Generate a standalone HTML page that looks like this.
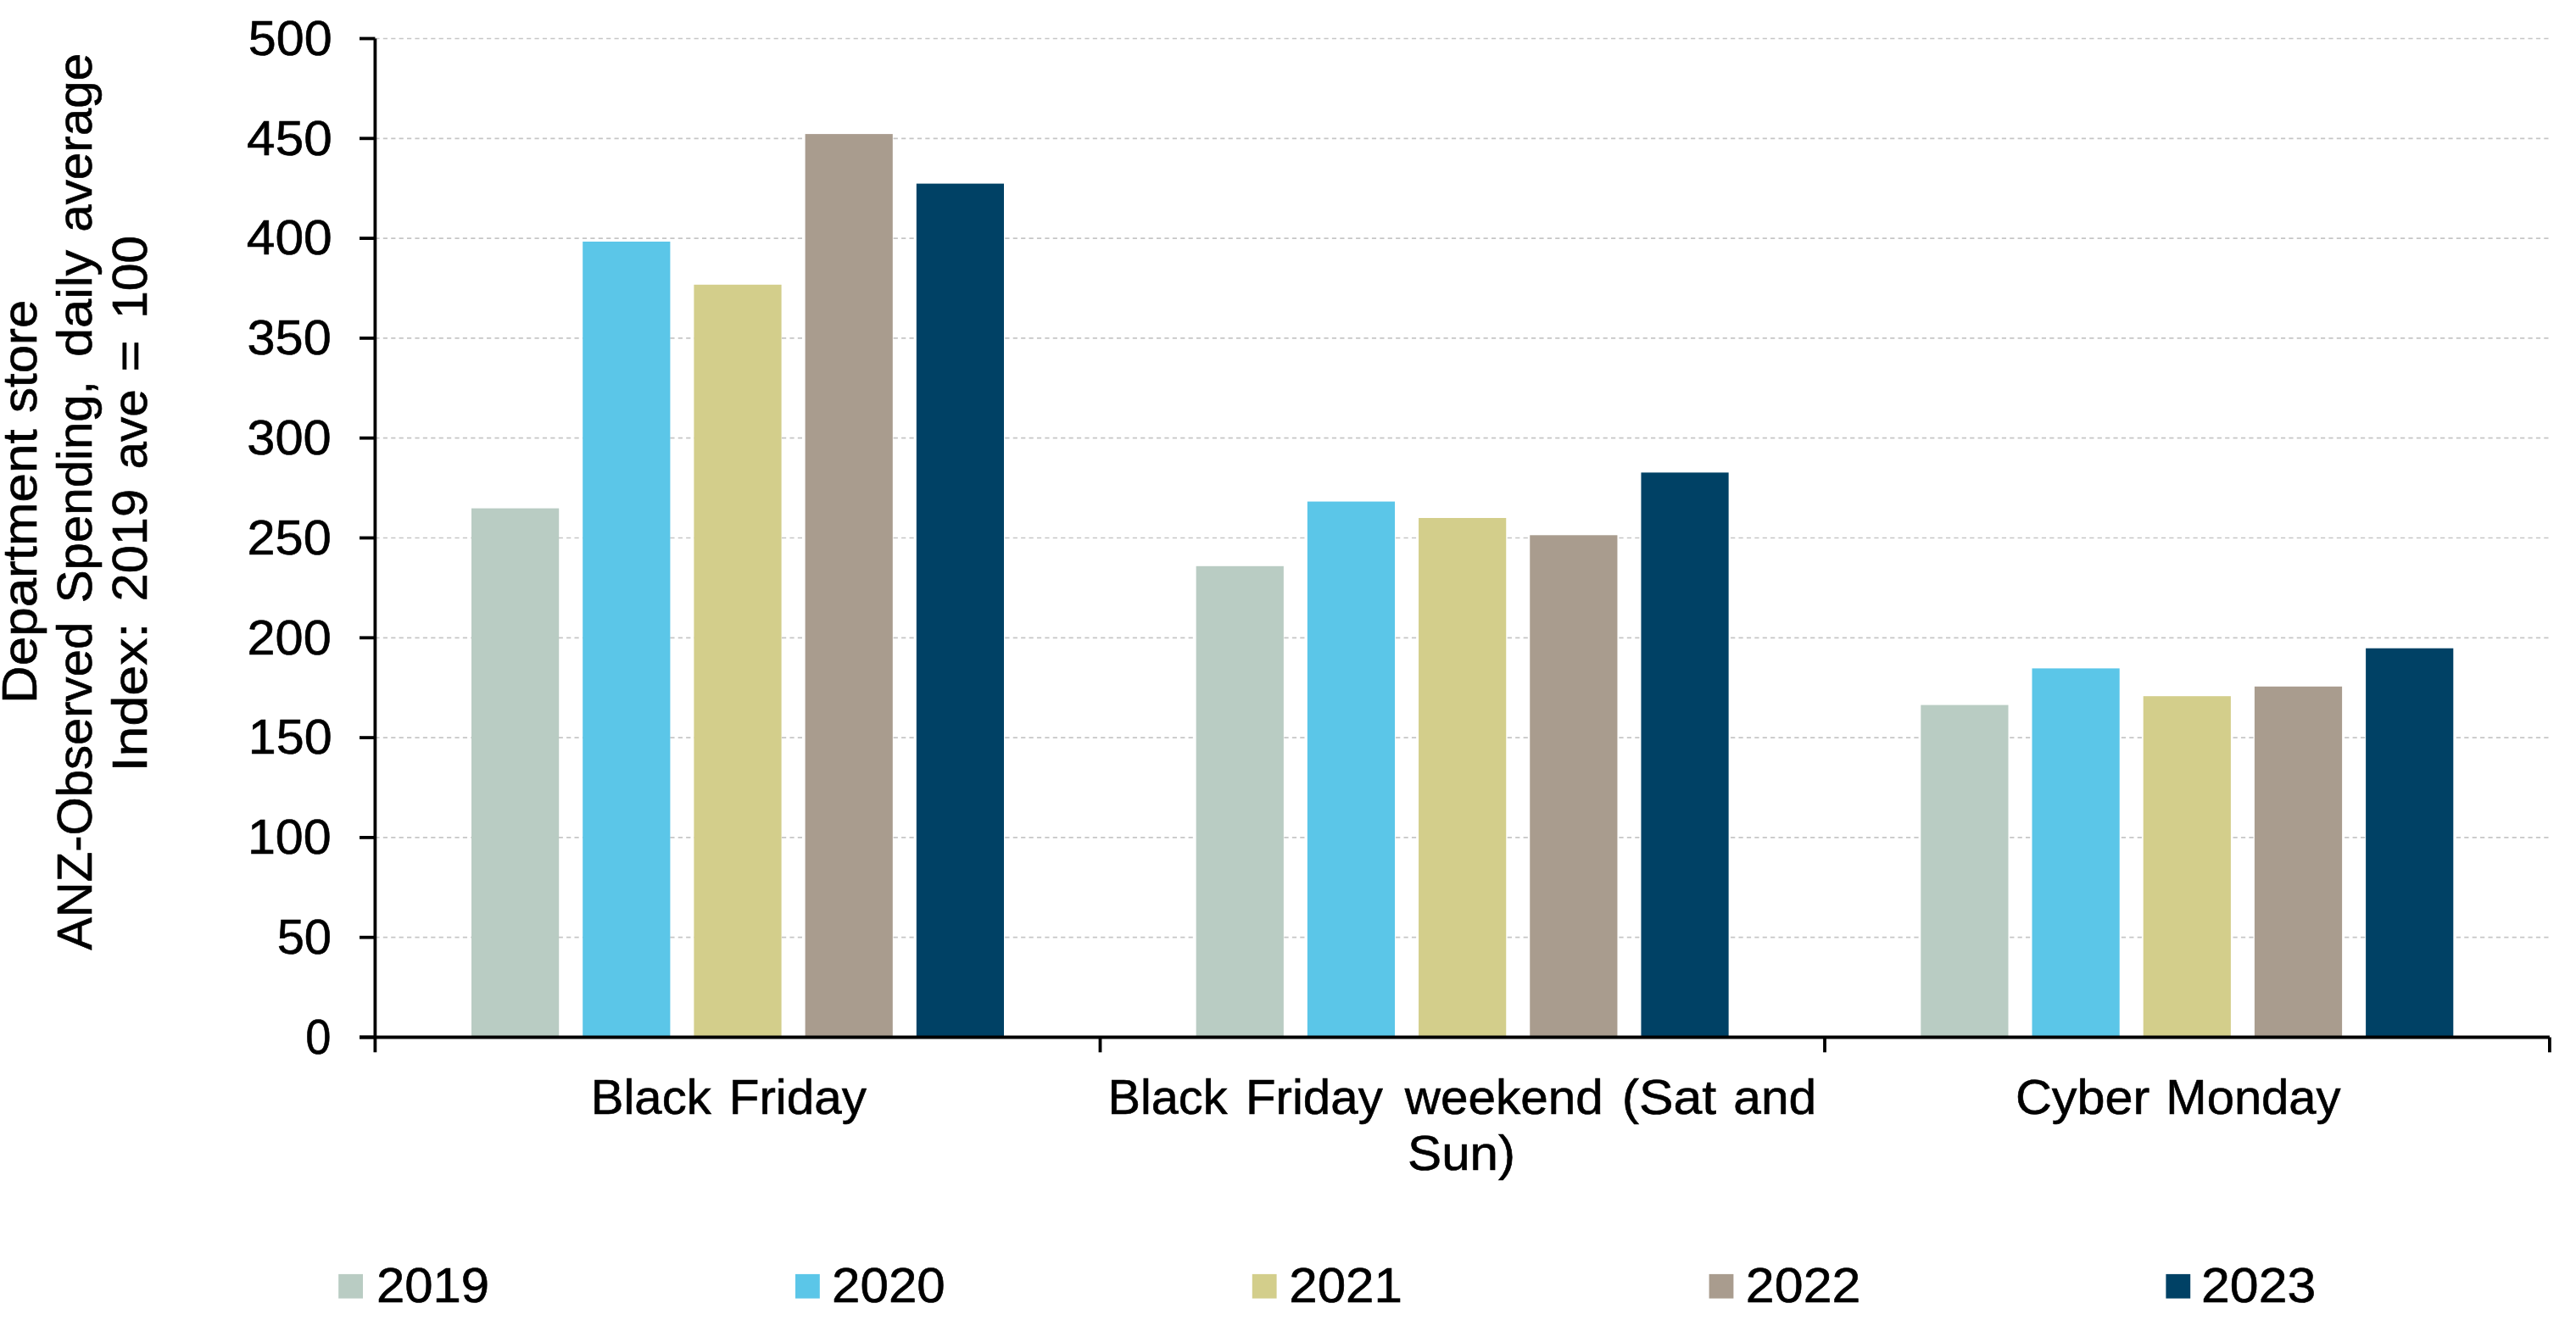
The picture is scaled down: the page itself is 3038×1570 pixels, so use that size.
<!DOCTYPE html>
<html><head><meta charset="utf-8"><title>Department store spending chart</title>
<style>html,body{margin:0;padding:0;background:#fff;width:100%;height:100%;overflow:hidden}
svg{position:absolute;left:0;top:0;display:block;width:100vw;height:100vh}</style></head>
<body>
<svg viewBox="0 0 3038 1570" preserveAspectRatio="none">
<line x1="442.4" y1="1105.70" x2="3006.9" y2="1105.70" stroke="#c6c6c6" stroke-width="1.7" stroke-dasharray="5.2 4.204"/>
<line x1="442.4" y1="987.90" x2="3006.9" y2="987.90" stroke="#c6c6c6" stroke-width="1.7" stroke-dasharray="5.2 4.204"/>
<line x1="442.4" y1="870.10" x2="3006.9" y2="870.10" stroke="#c6c6c6" stroke-width="1.7" stroke-dasharray="5.2 4.204"/>
<line x1="442.4" y1="752.30" x2="3006.9" y2="752.30" stroke="#c6c6c6" stroke-width="1.7" stroke-dasharray="5.2 4.204"/>
<line x1="442.4" y1="634.50" x2="3006.9" y2="634.50" stroke="#c6c6c6" stroke-width="1.7" stroke-dasharray="5.2 4.204"/>
<line x1="442.4" y1="516.70" x2="3006.9" y2="516.70" stroke="#c6c6c6" stroke-width="1.7" stroke-dasharray="5.2 4.204"/>
<line x1="442.4" y1="398.90" x2="3006.9" y2="398.90" stroke="#c6c6c6" stroke-width="1.7" stroke-dasharray="5.2 4.204"/>
<line x1="442.4" y1="281.10" x2="3006.9" y2="281.10" stroke="#c6c6c6" stroke-width="1.7" stroke-dasharray="5.2 4.204"/>
<line x1="442.4" y1="163.30" x2="3006.9" y2="163.30" stroke="#c6c6c6" stroke-width="1.7" stroke-dasharray="5.2 4.204"/>
<line x1="442.4" y1="45.50" x2="3006.9" y2="45.50" stroke="#c6c6c6" stroke-width="1.7" stroke-dasharray="5.2 4.204"/>
<rect x="556.00" y="599.60" width="103.2" height="623.90" fill="#b9ccc3"/>
<rect x="687.20" y="285.00" width="103.2" height="938.50" fill="#5bc6e8"/>
<rect x="818.40" y="335.80" width="103.2" height="887.70" fill="#d3ce8b"/>
<rect x="949.60" y="158.10" width="103.2" height="1065.40" fill="#a99c8e"/>
<rect x="1080.80" y="216.60" width="103.2" height="1006.90" fill="#004165"/>
<rect x="1410.65" y="667.80" width="103.2" height="555.70" fill="#b9ccc3"/>
<rect x="1541.85" y="591.60" width="103.2" height="631.90" fill="#5bc6e8"/>
<rect x="1673.05" y="611.00" width="103.2" height="612.50" fill="#d3ce8b"/>
<rect x="1804.25" y="631.30" width="103.2" height="592.20" fill="#a99c8e"/>
<rect x="1935.45" y="557.40" width="103.2" height="666.10" fill="#004165"/>
<rect x="2265.30" y="831.60" width="103.2" height="391.90" fill="#b9ccc3"/>
<rect x="2396.50" y="788.40" width="103.2" height="435.10" fill="#5bc6e8"/>
<rect x="2527.70" y="821.20" width="103.2" height="402.30" fill="#d3ce8b"/>
<rect x="2658.90" y="809.80" width="103.2" height="413.70" fill="#a99c8e"/>
<rect x="2790.10" y="764.70" width="103.2" height="458.80" fill="#004165"/>
<line x1="442.4" y1="45.50" x2="442.4" y2="1241.3" stroke="#000" stroke-width="3.8"/>
<line x1="424" y1="1223.50" x2="442.4" y2="1223.50" stroke="#000" stroke-width="3.8"/>
<line x1="424" y1="1105.70" x2="442.4" y2="1105.70" stroke="#000" stroke-width="3.8"/>
<line x1="424" y1="987.90" x2="442.4" y2="987.90" stroke="#000" stroke-width="3.8"/>
<line x1="424" y1="870.10" x2="442.4" y2="870.10" stroke="#000" stroke-width="3.8"/>
<line x1="424" y1="752.30" x2="442.4" y2="752.30" stroke="#000" stroke-width="3.8"/>
<line x1="424" y1="634.50" x2="442.4" y2="634.50" stroke="#000" stroke-width="3.8"/>
<line x1="424" y1="516.70" x2="442.4" y2="516.70" stroke="#000" stroke-width="3.8"/>
<line x1="424" y1="398.90" x2="442.4" y2="398.90" stroke="#000" stroke-width="3.8"/>
<line x1="424" y1="281.10" x2="442.4" y2="281.10" stroke="#000" stroke-width="3.8"/>
<line x1="424" y1="163.30" x2="442.4" y2="163.30" stroke="#000" stroke-width="3.8"/>
<line x1="424" y1="45.50" x2="442.4" y2="45.50" stroke="#000" stroke-width="3.8"/>
<line x1="424" y1="1223.5" x2="3006.90" y2="1223.5" stroke="#000" stroke-width="4.0"/>
<line x1="1297.5" y1="1223.5" x2="1297.5" y2="1241.3" stroke="#000" stroke-width="3.8"/>
<line x1="2152.0" y1="1223.5" x2="2152.0" y2="1241.3" stroke="#000" stroke-width="3.8"/>
<line x1="3006.9" y1="1223.5" x2="3006.9" y2="1241.3" stroke="#000" stroke-width="3.8"/>
<rect x="399.2" y="1502.9" width="28.8" height="28.7" fill="#b9ccc3"/>
<rect x="938.0" y="1502.9" width="28.8" height="28.7" fill="#5bc6e8"/>
<rect x="1476.8" y="1502.9" width="28.8" height="28.7" fill="#d3ce8b"/>
<rect x="2015.6" y="1502.9" width="28.8" height="28.7" fill="#a99c8e"/>
<rect x="2554.4" y="1502.9" width="28.8" height="28.7" fill="#004165"/>
<g font-family="Liberation Sans" fill="#000" stroke="#000" stroke-width="0.6">
<text x="360.32" y="1242.85" font-size="57" textLength="30.17" lengthAdjust="spacingAndGlyphs">0</text>
<text x="326.65" y="1125.05" font-size="57" textLength="64.44" lengthAdjust="spacingAndGlyphs">50</text>
<text x="291.95" y="1007.25" font-size="57" textLength="98.75" lengthAdjust="spacingAndGlyphs">100</text>
<text x="292.88" y="889.45" font-size="57" textLength="98.82" lengthAdjust="spacingAndGlyphs">150</text>
<text x="291.47" y="771.65" font-size="57" textLength="99.25" lengthAdjust="spacingAndGlyphs">200</text>
<text x="291.47" y="653.85" font-size="57" textLength="99.25" lengthAdjust="spacingAndGlyphs">250</text>
<text x="291.30" y="536.05" font-size="57" textLength="99.43" lengthAdjust="spacingAndGlyphs">300</text>
<text x="291.50" y="418.25" font-size="57" textLength="99.21" lengthAdjust="spacingAndGlyphs">350</text>
<text x="290.72" y="300.45" font-size="57" textLength="101.02" lengthAdjust="spacingAndGlyphs">400</text>
<text x="291.11" y="182.65" font-size="57" textLength="100.62" lengthAdjust="spacingAndGlyphs">450</text>
<text x="292.87" y="64.85" font-size="57" textLength="98.84" lengthAdjust="spacingAndGlyphs">500</text>
<text x="696.73" y="1314.40" font-size="56.5" textLength="142.01" lengthAdjust="spacingAndGlyphs">Black</text>
<text x="859.74" y="1314.40" font-size="56.5" textLength="162.21" lengthAdjust="spacingAndGlyphs">Friday</text>
<text x="1306.51" y="1314.40" font-size="56.5" textLength="141.03" lengthAdjust="spacingAndGlyphs">Black</text>
<text x="1468.96" y="1314.40" font-size="56.5" textLength="161.80" lengthAdjust="spacingAndGlyphs">Friday</text>
<text x="1656.77" y="1314.40" font-size="56.5" textLength="234.00" lengthAdjust="spacingAndGlyphs">weekend</text>
<text x="1912.71" y="1314.40" font-size="56.5" textLength="111.44" lengthAdjust="spacingAndGlyphs">(Sat</text>
<text x="2044.30" y="1314.40" font-size="56.5" textLength="97.90" lengthAdjust="spacingAndGlyphs">and</text>
<text x="1660.08" y="1380.00" font-size="56.5" textLength="127.02" lengthAdjust="spacingAndGlyphs">Sun)</text>
<text x="2376.96" y="1314.40" font-size="56.5" textLength="158.32" lengthAdjust="spacingAndGlyphs">Cyber</text>
<text x="2554.35" y="1314.40" font-size="56.5" textLength="206.26" lengthAdjust="spacingAndGlyphs">Monday</text>
<text x="443.90" y="1535.80" font-size="57" textLength="133.27" lengthAdjust="spacingAndGlyphs">2019</text>
<text x="981.10" y="1535.80" font-size="57" textLength="133.68" lengthAdjust="spacingAndGlyphs">2020</text>
<text x="1520.27" y="1535.80" font-size="57" textLength="133.72" lengthAdjust="spacingAndGlyphs">2021</text>
<text x="2058.88" y="1535.80" font-size="57" textLength="135.54" lengthAdjust="spacingAndGlyphs">2022</text>
<text x="2596.09" y="1535.80" font-size="57" textLength="135.12" lengthAdjust="spacingAndGlyphs">2023</text>
<text x="43.50" y="830.02" font-size="56.5" textLength="323.76" lengthAdjust="spacingAndGlyphs" transform="rotate(-90 43.50 830.02)">Department</text>
<text x="43.50" y="487.05" font-size="56.5" textLength="133.44" lengthAdjust="spacingAndGlyphs" transform="rotate(-90 43.50 487.05)">store</text>
<text x="107.60" y="1120.83" font-size="56.5" textLength="387.04" lengthAdjust="spacingAndGlyphs" transform="rotate(-90 107.60 1120.83)">ANZ-Observed</text>
<text x="107.60" y="711.25" font-size="56.5" textLength="262.17" lengthAdjust="spacingAndGlyphs" transform="rotate(-90 107.60 711.25)">Spending,</text>
<text x="107.60" y="421.02" font-size="56.5" textLength="126.28" lengthAdjust="spacingAndGlyphs" transform="rotate(-90 107.60 421.02)">daily</text>
<text x="107.60" y="273.83" font-size="56.5" textLength="211.15" lengthAdjust="spacingAndGlyphs" transform="rotate(-90 107.60 273.83)">average</text>
<text x="173.10" y="910.52" font-size="56.5" textLength="176.09" lengthAdjust="spacingAndGlyphs" transform="rotate(-90 173.10 910.52)">Index:</text>
<text x="173.10" y="709.51" font-size="56.5" textLength="132.68" lengthAdjust="spacingAndGlyphs" transform="rotate(-90 173.10 709.51)">2019</text>
<text x="173.10" y="553.55" font-size="56.5" textLength="94.43" lengthAdjust="spacingAndGlyphs" transform="rotate(-90 173.10 553.55)">ave</text>
<text x="173.10" y="438.63" font-size="56.5" textLength="37.31" lengthAdjust="spacingAndGlyphs" transform="rotate(-90 173.10 438.63)">=</text>
<text x="173.10" y="376.06" font-size="56.5" textLength="98.17" lengthAdjust="spacingAndGlyphs" transform="rotate(-90 173.10 376.06)">100</text>
</g>
</svg>
</body></html>
